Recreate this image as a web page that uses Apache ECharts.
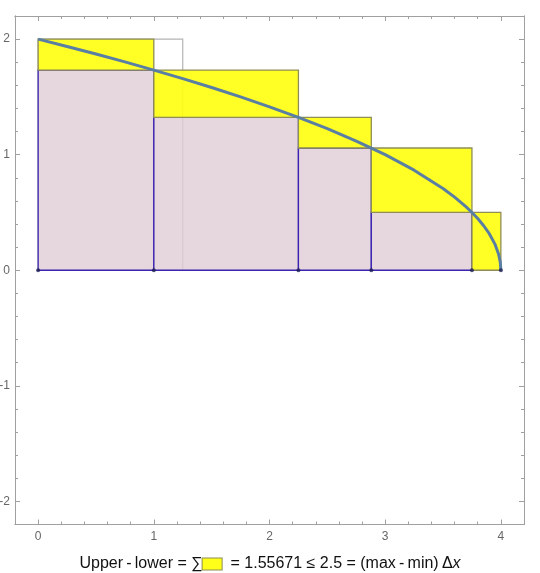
<!DOCTYPE html>
<html><head><meta charset="utf-8">
<script src="https://cdn.jsdelivr.net/npm/echarts@6/dist/echarts.min.js"></script>
<style>html,body{margin:0;padding:0;background:#fff}#c{width:540px;height:573px}</style>
</head><body><div id="c"></div>
<script>
// ---- data ----
const partition = [0, 1, 2.25, 2.88, 3.75, 4];
const upperHeights = [2, 1.732, 1.323, 1.058, 0.5];
const lowerHeights = [1.732, 1.323, 1.058, 0.5, 0];
const curveX = [0,0.25,0.5,0.75,1,1.25,1.5,1.75,2,2.25,2.5,2.75,3,3.25,3.5,3.6,3.7,3.75,3.8,3.85,3.9,3.95,3.98,3.995,4];
const curveY = [2,1.9365,1.8708,1.8028,1.7321,1.6583,1.5811,1.5,1.4142,1.3229,1.2247,1.118,1.0,0.866,0.7071,0.6325,0.5477,0.5,0.4472,0.3873,0.3162,0.2236,0.1414,0.0707,0];
const maxMinBox = [0, 1.25, 0, 2]; // x0, x1, y0, y1
const xTickLabels = [0, 1, 2, 3, 4];
const yTickLabels = [-2, -1, 0, 1, 2];
const xMinor = [-0.2,0,0.2,0.4,0.6,0.8,1,1.2,1.4,1.6,1.8,2,2.2,2.4,2.6,2.8,3,3.2,3.4,3.6,3.8,4,4.2];
const yMinor = [-2.2,-2,-1.8,-1.6,-1.4,-1.2,-1,-0.8,-0.6,-0.4,-0.2,0,0.2,0.4,0.6,0.8,1,1.2,1.4,1.6,1.8,2,2.2];
const sumValue = '1.55671';
const boundValue = '2.5';

// ---- build ----
const lowerRects = [], upperRects = [];
for (let i = 0; i < partition.length - 1; i++) {
  lowerRects.push([partition[i], partition[i+1], 0, lowerHeights[i]]);
  upperRects.push([partition[i], partition[i+1], lowerHeights[i], upperHeights[i]]);
}
const curve = curveX.map((x, i) => [x, curveY[i]]);
const dots = partition.map(x => [x, 0]);

function rectRenderer(fill, stroke, lw) {
  return function (params, api) {
    const p0 = api.coord([api.value(0), api.value(3)]);
    const p1 = api.coord([api.value(1), api.value(2)]);
    return { type: 'rect',
      shape: { x: p0[0], y: p0[1], width: p1[0] - p0[0], height: p1[1] - p0[1] },
      style: { fill: fill, stroke: stroke, lineWidth: lw } };
  };
}

const axisCol = '#a0a0a0';
const X_MIN = -0.2, X_MAX = 4.2, Y_MIN = -2.2, Y_MAX = 2.2;
function mkX(pos, labels, major) {
  return { type: 'value', min: X_MIN, max: X_MAX, position: pos, gridIndex: 0,
    axisLine: { show: true, onZero: false, lineStyle: { color: axisCol, width: 1 } },
    splitLine: { show: false },
    axisTick: { show: true, inside: true, length: major ? 5 : 3, customValues: major ? xTickLabels : xMinor, lineStyle: { color: axisCol } },
    axisLabel: { show: labels, customValues: xTickLabels, color: '#666', fontSize: 12, margin: 6, fontFamily: 'Liberation Sans' } };
}
function mkY(pos, labels, major) {
  return { type: 'value', min: Y_MIN, max: Y_MAX, position: pos, gridIndex: 0,
    axisLine: { show: true, onZero: false, lineStyle: { color: axisCol, width: 1 } },
    splitLine: { show: false },
    axisTick: { show: true, inside: true, length: major ? 5 : 3, customValues: major ? yTickLabels : yMinor, lineStyle: { color: axisCol } },
    axisLabel: { show: labels, customValues: yTickLabels, color: '#666', fontSize: 12, margin: 5, fontFamily: 'Liberation Sans',
      formatter: v => String(v) } };
}

const chart = echarts.init(document.getElementById('c'), null, { renderer: 'canvas' });
chart.setOption({
  animation: false,
  backgroundColor: '#fff',
  grid: { left: 15, right: 16, top: 16, bottom: 48.5, containLabel: false, outerBoundsMode: 'none' },
  title: {
    left: 'center', top: 551,
    text: 'Upper\u2009-\u2009lower = ∑{box|}  = ' + sumValue + ' ≤ ' + boundValue + ' = (max\u2009-\u2009min)\u2009Δ{it|x}',
    textStyle: { fontSize: 16, fontWeight: 'normal', color: '#111', fontFamily: 'Liberation Sans',
      rich: {
        box: { width: 19, height: 11, backgroundColor: '#ffff1a', borderColor: '#8c8c50', borderWidth: 1 },
        it: { fontStyle: 'italic', fontSize: 16, color: '#111', fontFamily: 'Liberation Sans' }
      } }
  },
  xAxis: [mkX('bottom', true, true), mkX('bottom', false, false), mkX('top', false, true), mkX('top', false, false)],
  yAxis: [mkY('left', true, true), mkY('left', false, false), mkY('right', false, true), mkY('right', false, false)],
  series: [
    { type: 'custom', name: 'maxmin', renderItem: rectRenderer('none', '#b4b4b4', 1.2), data: [maxMinBox], z: 1, silent: true },
    { type: 'custom', name: 'lower', renderItem: rectRenderer('rgba(224,204,212,0.8)', '#3a24b0', 1.3), data: lowerRects, z: 2, silent: true },
    { type: 'custom', name: 'upper', renderItem: rectRenderer('rgba(255,255,20,0.92)', '#8e8e55', 1.3), data: upperRects, z: 3, silent: true },
    { type: 'line', name: 'f', data: curve, showSymbol: false, smooth: false, z: 4,
      lineStyle: { color: '#5a7fa3', width: 3 } },
    { type: 'scatter', name: 'pts', data: dots, symbolSize: 4, z: 5, itemStyle: { color: '#1e1e55' } }
  ]
});
</script></body></html>
